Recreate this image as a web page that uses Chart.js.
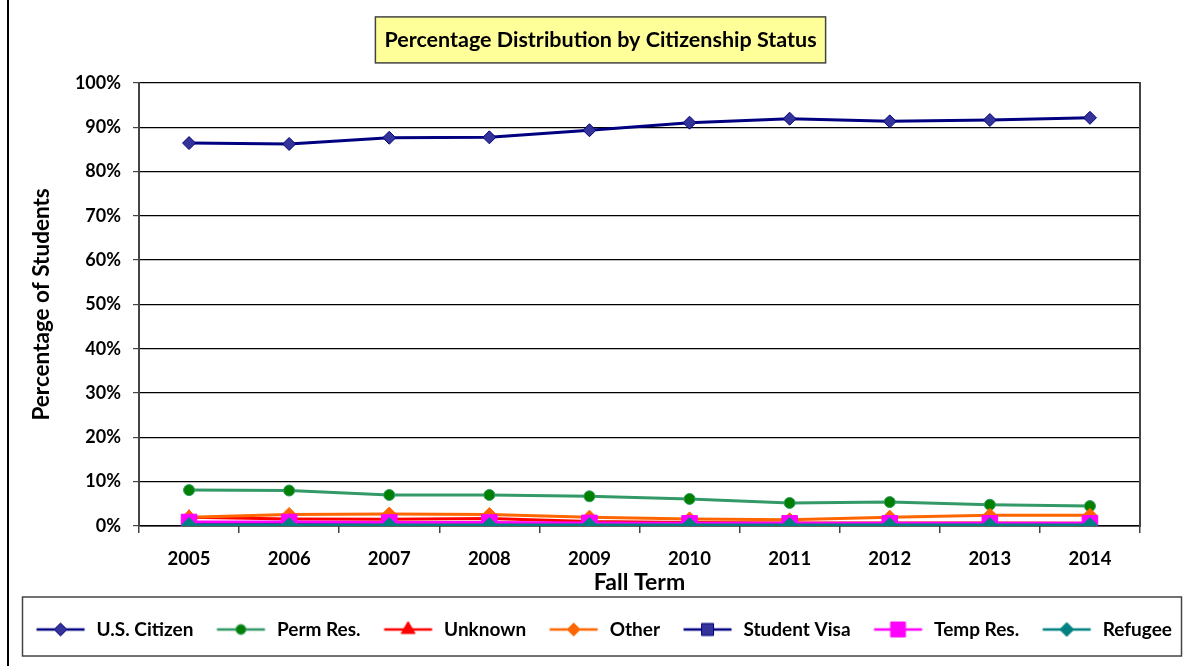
<!DOCTYPE html>
<html>
<head>
<meta charset="utf-8">
<title>Percentage Distribution by Citizenship Status</title>
<script src="https://cdn.jsdelivr.net/npm/chart.js@4/dist/chart.umd.min.js"></script>
<style>
  html, body { margin: 0; padding: 0; background: #fff; }
  canvas { display: block; }
</style>
</head>
<body>
<canvas id="citChart" width="1193" height="666"></canvas>
<script>
// data, in percent
const terms = ["2005", "2006", "2007", "2008", "2009", "2010", "2011", "2012", "2013", "2014"];
const usCitizen   = [86.4, 86.2, 87.6, 87.7, 89.3, 91.0, 91.9, 91.3, 91.6, 92.1];
const permRes     = [8.1, 8.0, 7.0, 7.0, 6.7, 6.1, 5.2, 5.4, 4.8, 4.5];
const unknown     = [2.0, 1.6, 1.5, 1.7, 1.0, 0.8, 0.7, 0.7, 0.7, 0.6];
const other       = [2.0, 2.6, 2.7, 2.6, 2.0, 1.6, 1.4, 2.0, 2.4, 2.4];
const studentVisa = [0.4, 0.5, 0.5, 0.5, 0.5, 0.5, 0.5, 0.5, 0.5, 0.5];
const tempRes     = [0.9, 0.9, 0.8, 0.8, 0.7, 0.6, 0.6, 0.6, 0.6, 0.6];
const refugee     = [0.2, 0.2, 0.2, 0.2, 0.2, 0.2, 0.2, 0.2, 0.2, 0.2];
const yTicks = [0, 10, 20, 30, 40, 50, 60, 70, 80, 90, 100];

const FONT = "Lato, 'Open Sans', sans-serif";

// series look: line colour, marker fill, marker style, marker radius, legend marker radius
const series = [
  { label: "U.S. Citizen", data: usCitizen,   line: "#000080", fill: "#333399", style: "rectRot",  r: 6.5, lr: 6.5 },
  { label: "Perm Res.",    data: permRes,     line: "#339966", fill: "#008000", style: "circle",   r: 5.5, lr: 5 },
  { label: "Unknown",      data: unknown,     line: "#FF0000", fill: "#FF0000", style: "triangle", r: 7.5, lr: 8 },
  { label: "Other",        data: other,       line: "#FF6600", fill: "#FF6600", style: "rectRot",  r: 7,   lr: 6.5 },
  { label: "Student Visa", data: studentVisa, line: "#000080", fill: "#333399", style: "rect",     r: 8,   lr: 8.5 },
  { label: "Temp Res.",    data: tempRes,     line: "#FF00FF", fill: "#FF00FF", style: "rect",     r: 11,  lr: 10.5 },
  { label: "Refugee",      data: refugee,     line: "#008080", fill: "#008080", style: "rectRot",  r: 7.5, lr: 7 }
];

// little line+marker pictures for the legend (left part left blank as spacing)
function legendIcon(s) {
  const c = document.createElement('canvas');
  c.width = 64; c.height = 24;
  const g = c.getContext('2d');
  g.strokeStyle = s.line;
  g.lineWidth = 2.5;
  g.beginPath(); g.moveTo(10.5, 12); g.lineTo(58.5, 12); g.stroke();
  g.fillStyle = s.fill;
  g.lineWidth = 1;
  Chart.helpers.drawPoint(g, { pointStyle: s.style, radius: s.lr, rotation: 0, borderWidth: 1 }, 34.5, 12);
  return c;
}
const icons = series.map(legendIcon);

const boxes = {
  id: 'boxes',
  beforeDraw(chart) {
    const ctx = chart.ctx, t = chart.titleBlock;
    const font = Chart.helpers.toFont(t.options.font);
    const pad = Chart.helpers.toPadding(t.options.padding);
    ctx.save();
    ctx.font = font.string;
    const w = ctx.measureText(t.options.text).width + 18;
    const cx = (t.left + t.right) / 2;
    const cy = t.top + pad.top + font.lineHeight / 2;
    ctx.fillStyle = '#FFFF99';
    ctx.fillRect(cx - w / 2, cy - 23, w, 46);
    ctx.strokeStyle = '#444';
    ctx.lineWidth = 1.5;
    ctx.strokeRect(cx - w / 2, cy - 23, w, 46);
    ctx.restore();
  },
  afterDraw(chart) {
    const ctx = chart.ctx, lg = chart.legend;
    ctx.save();
    ctx.strokeStyle = '#444';
    ctx.lineWidth = 1.5;
    const cy = (lg.top + lg.bottom) / 2;
    ctx.strokeRect(22.5, cy - 29.5, chart.width - 34, 59);
    // outer frame of the chart object
    ctx.strokeStyle = '#000';
    ctx.lineWidth = 2;
    ctx.beginPath(); ctx.moveTo(8, 0); ctx.lineTo(8, chart.height); ctx.stroke();
    ctx.restore();
  }
};

const ctx = document.getElementById('citChart').getContext('2d');
const citChart = new Chart(ctx, {
  type: 'line',
  data: {
    labels: terms,
    datasets: series.map((s, i) => ({
      label: s.label,
      data: s.data,
      order: series.length - i, // later series on top, like the original
      borderColor: s.line,
      backgroundColor: s.fill,
      borderWidth: 3,
      pointStyle: s.style,
      pointRadius: s.r,
      pointHoverRadius: s.r,
      pointBackgroundColor: s.fill,
      pointBorderColor: s.line,
      pointBorderWidth: 1,
      tension: 0
    }))
  },
  options: {
    responsive: false,
    animation: false,
    maintainAspectRatio: false,
    layout: { padding: { left: 8, right: 0, top: 0, bottom: 17 } },
    plugins: {
      title: {
        display: true,
        text: 'Percentage Distribution by Citizenship Status',
        color: '#000',
        font: { family: FONT, size: 21.5, weight: 'bold' },
        padding: { top: 27, bottom: 30 }
      },
      legend: {
        position: 'bottom',
        labels: {
          usePointStyle: true,
          pointStyleWidth: 58,
          padding: 16,
          color: '#000',
          font: { family: FONT, size: 19, weight: 'bold' },
          sort: (a, b) => a.datasetIndex - b.datasetIndex,
          generateLabels(chart) {
            const items = Chart.defaults.plugins.legend.labels.generateLabels(chart);
            items.forEach(it => { it.pointStyle = icons[it.datasetIndex]; });
            return items;
          }
        }
      },
      tooltip: { enabled: false }
    },
    scales: {
      x: {
        offset: true,
        grid: { offset: true, drawOnChartArea: false, drawTicks: true, tickLength: 7, tickColor: '#444', lineWidth: 1.5 },
        border: { color: '#000', width: 1.5 },
        ticks: { color: '#000', padding: 15, font: { family: FONT, size: 18.5, weight: 'bold' } },
        title: { display: true, text: 'Fall Term', color: '#000', padding: { top: 0, bottom: 8 },
                 font: { family: FONT, size: 23, weight: 'bold' } },
        afterFit(s) { s.height = 78; }
      },
      y: {
        min: 0,
        max: 100,
        ticks: {
          stepSize: 5,
          padding: 12,
          color: '#000',
          font: { family: FONT, size: 18, weight: 'bold' },
          callback: v => yTicks.includes(v) ? v + '%' : ''
        },
        grid: {
          color: c => yTicks.includes(c.tick.value) ? '#000' : 'rgba(0,0,0,0)',
          tickColor: '#444',
          tickLength: 6,
          lineWidth: 1.2
        },
        border: { color: '#444', width: 2 },
        title: { display: true, text: 'Percentage of Students', color: '#000', padding: { top: 20, bottom: 0 },
                 font: { family: FONT, size: 22.5, weight: 'bold' } },
        afterFit(s) { s.width = 131; }
      },
      yR: {
        position: 'right',
        grid: { drawOnChartArea: false, drawTicks: false },
        ticks: { display: false },
        border: { color: '#444', width: 2 },
        afterFit(s) { s.width = 53; }
      }
    }
  },
  plugins: [boxes]
});
</script>
</body>
</html>
